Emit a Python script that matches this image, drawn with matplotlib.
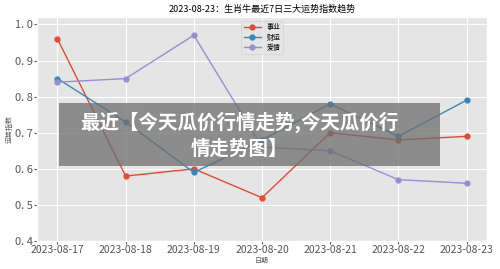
import matplotlib
matplotlib.use("Agg")
import matplotlib.pyplot as plt
from matplotlib.patches import Rectangle

plt.style.use("ggplot")
plt.rcParams['font.family'] = ['Noto Sans CJK SC', 'DejaVu Sans']
plt.rcParams['axes.unicode_minus'] = False

# data
dates = ["2023-08-17", "2023-08-18", "2023-08-19", "2023-08-20",
         "2023-08-21", "2023-08-22", "2023-08-23"]
career = [0.96, 0.58, 0.60, 0.52, 0.70, 0.68, 0.69]
wealth = [0.85, 0.73, 0.59, 0.68, 0.78, 0.69, 0.79]
love = [0.84, 0.85, 0.97, 0.66, 0.65, 0.57, 0.56]
series_names = ["事业", "财运", "爱情"]
y_ticks = [0.4, 0.5, 0.6, 0.7, 0.8, 0.9, 1.0]
title = "2023-08-23：生肖牛最近7日三大运势指数趋势"
overlay_text = "最近【今天瓜价行情走势,今天瓜价行\n情走势图】"

fig = plt.figure(figsize=(5, 2.69), dpi=100)
ax = fig.add_axes([0.074, 0.104, 0.9, 0.832])

x = range(len(dates))
for vals, name in zip([career, wealth, love], series_names):
    ax.plot(x, vals, marker="o", markersize=3.5, linewidth=1, label=name)

ax.set_xticks(list(x))
ax.set_xticklabels(dates, fontsize=7.5, color="#555555")
ax.set_yticks(y_ticks)
ax.set_yticklabels([f"{v:.1f}".replace(".", ". ") for v in y_ticks], fontsize=8, color="#555555")
ax.set_ylim(0.4, 1.02)
ax.set_xlim(-0.3, 6.3)
ax.tick_params(axis="both", length=2, pad=1)
ax.set_xlabel("日期", fontsize=5, color="#555555", labelpad=1)
ax.set_ylabel("运势指数", fontsize=5, color="#555555", labelpad=1)
ax.set_title(title, fontsize=6.5, pad=4)
ax.legend(loc="upper center", fontsize=5, framealpha=0.8, borderpad=0.4,
          labelspacing=0.3, handlelength=2.5)

# gray banner on top of the chart
fig.patches.append(Rectangle((0.118, 0.383), 0.762, 0.235, transform=fig.transFigure,
                             facecolor="#6e6e6e", alpha=0.75, edgecolor="none", zorder=5))
fig.text(0.478, 0.497, overlay_text, ha="center", va="center", fontsize=14,
         fontweight="bold", color="white", zorder=6, linespacing=1.45)

fig.savefig("out.png", dpi=100)
